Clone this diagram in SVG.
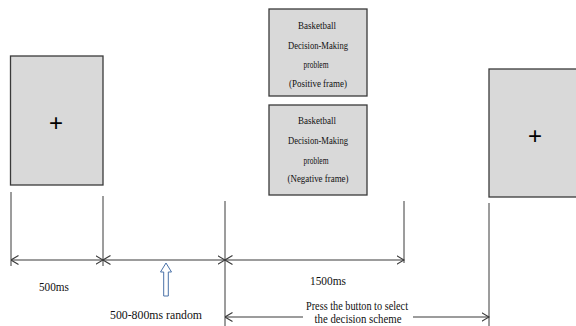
<svg xmlns="http://www.w3.org/2000/svg" width="576" height="326" viewBox="0 0 576 326">
  <style>
    .screen { fill: #d9d9d9; stroke: #3a3a3a; stroke-width: 1.3; }
    .fix { font-family: "Liberation Sans", Arial, sans-serif; font-size: 24px; fill: #000; text-anchor: middle; }
    .box-text { font-family: "Liberation Serif", "Times New Roman", serif; font-size: 11px; fill: #111; text-anchor: middle; }
    .label { font-family: "Liberation Serif", "Times New Roman", serif; font-size: 12.5px; fill: #111; text-anchor: middle; }
    .tick { stroke: #3a3a3a; stroke-width: 1; fill: none; }
    .dim { stroke: #3a3a3a; stroke-width: 1.2; fill: none; }
  </style>
  <defs>
    <marker id="chev" viewBox="0 0 8 10" refX="7.5" refY="5" markerWidth="8" markerHeight="10" markerUnits="userSpaceOnUse" orient="auto-start-reverse">
      <path d="M0,0.5 L7.5,5 L0,9.5" fill="none" stroke="#3a3a3a" stroke-width="1.1"/>
    </marker>
  </defs>
  <rect width="576" height="326" fill="#ffffff"/>

  <!-- fixation screen -->
  <g id="fixation-start">
    <rect class="screen" x="10.5" y="56" width="92.5" height="129"/>
    <text class="fix" x="56" y="131">+</text>
  </g>

  <!-- decision problem, positive frame -->
  <g id="problem-positive">
    <rect class="screen" x="269" y="9" width="98" height="87"/>
    <text class="box-text" x="317" y="29" textLength="38" lengthAdjust="spacingAndGlyphs">Basketball</text>
    <text class="box-text" x="318" y="49" textLength="60" lengthAdjust="spacingAndGlyphs">Decision-Making</text>
    <text class="box-text" x="316" y="68" textLength="25" lengthAdjust="spacingAndGlyphs">problem</text>
    <text class="box-text" x="318" y="87" textLength="58" lengthAdjust="spacingAndGlyphs">(Positive frame)</text>
  </g>

  <!-- decision problem, negative frame -->
  <g id="problem-negative">
    <rect class="screen" x="269" y="105" width="98" height="90"/>
    <text class="box-text" x="317" y="124" textLength="38" lengthAdjust="spacingAndGlyphs">Basketball</text>
    <text class="box-text" x="318" y="144" textLength="60" lengthAdjust="spacingAndGlyphs">Decision-Making</text>
    <text class="box-text" x="316" y="164" textLength="25" lengthAdjust="spacingAndGlyphs">problem</text>
    <text class="box-text" x="318" y="182" textLength="61" lengthAdjust="spacingAndGlyphs">(Negative frame)</text>
  </g>

  <!-- next fixation screen -->
  <g id="fixation-next">
    <rect class="screen" x="489" y="69" width="100" height="128"/>
    <text class="fix" x="535" y="144">+</text>
  </g>

  <!-- timeline connectors -->
  <g id="connectors">
    <line class="tick" x1="11" y1="192" x2="11" y2="266"/>
    <line class="tick" x1="103" y1="196" x2="103" y2="266"/>
    <line class="tick" x1="225" y1="201" x2="225" y2="326"/>
    <line class="tick" x1="404" y1="201" x2="404" y2="263"/>
    <line class="tick" x1="489" y1="203" x2="489" y2="326"/>

    <line class="dim" x1="11" y1="260" x2="103" y2="260" marker-start="url(#chev)" marker-end="url(#chev)"/>
    <line class="dim" x1="103" y1="260" x2="225" y2="260" marker-start="url(#chev)" marker-end="url(#chev)"/>
    <line class="dim" x1="225" y1="260" x2="404" y2="260" marker-start="url(#chev)" marker-end="url(#chev)"/>

    <line class="dim" x1="225" y1="317" x2="303" y2="317" marker-start="url(#chev)"/>
    <line class="dim" x1="413" y1="317" x2="489" y2="317" marker-end="url(#chev)"/>

    <!-- hollow upward arrow -->
    <path d="M163.7,296 L163.7,272 L160.5,272 L166,263 L171.5,272 L168.3,272 L168.3,296 Z" fill="#ffffff" stroke="#4a72a8" stroke-width="1"/>
  </g>

  <!-- labels -->
  <g id="labels">
    <text class="label" x="54" y="291" textLength="30" lengthAdjust="spacingAndGlyphs">500ms</text>
    <text class="label" x="156" y="319" textLength="92" lengthAdjust="spacingAndGlyphs">500-800ms random</text>
    <text class="label" x="328" y="285" textLength="36" lengthAdjust="spacingAndGlyphs">1500ms</text>
    <text class="label" x="357" y="310" textLength="102" lengthAdjust="spacingAndGlyphs">Press the button to select</text>
    <text class="label" x="358" y="322.5" textLength="87" lengthAdjust="spacingAndGlyphs" style="font-size:12px">the decision scheme</text>
  </g>
</svg>
